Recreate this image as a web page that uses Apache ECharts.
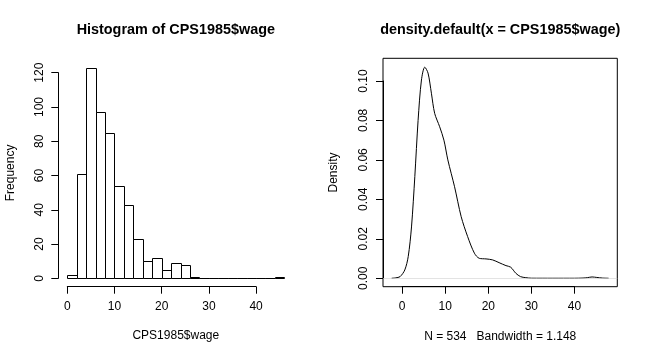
<!DOCTYPE html>
<html>
<head>
<meta charset="utf-8">
<script src="https://cdn.jsdelivr.net/npm/echarts@6/dist/echarts.min.js"></script>
<style>
html,body{margin:0;padding:0;background:#fff;}
#chart{width:648px;height:360px;}
</style>
</head>
<body>
<div id="chart"></div>
<script>
// Histogram data (bin width 2)
var binStarts = [0,2,4,6,8,10,12,14,16,18,20,22,24,26,28,30,32,34,36,38,40,42,44];
var binWidth = 2;
var counts = [2,61,123,97,85,54,43,23,10,12,5,9,8,1,0,0,0,0,0,0,0,0,1];
var histXTicks = [0,10,20,30,40];
var histYTicks = [0,20,40,60,80,100,120];

// Density estimate
var densX = [-2.44,-1.5,-0.5,0.6,1.4,2.16,2.93,3.69,4.47,5.24,6.0,6.78,7.54,8.7,9.69,10.6,12.16,13.7,15.2,16.77,17.9,19.47,21.0,22.5,24.1,25.2,26.4,27.5,28.7,30,35,40,42,43,44.1,45.2,46.5,47.94];
var densY = [0,0.0002,0.0008,0.0042,0.011,0.026,0.0515,0.080,0.1005,0.107,0.104,0.0938,0.0836,0.0768,0.070,0.060,0.0464,0.0312,0.0211,0.0127,0.0101,0.0098,0.0093,0.0079,0.0064,0.0056,0.0025,0.0008,0.0003,0.00002,0,0,0.0001,0.0003,0.00065,0.0004,0.0001,0];
var densYTicks = [0,0.02,0.04,0.06,0.08,0.10];

var FONT = '"Liberation Sans", Arial, Helvetica, sans-serif';

var histData = binStarts.map(function(s,i){ return [s, s+binWidth, counts[i]]; });
var densData = densX.map(function(x,i){ return [x, densY[i]]; });

function tickAxisX(gridIndex, min, max, interval, fmt){
  return {gridIndex:gridIndex, type:'value', min:min, max:max, interval:interval,
    axisLine:{show:true, lineStyle:{color:'#000', width:1}},
    axisTick:{show:true, length:7, lineStyle:{color:'#000'}},
    axisLabel:{show:true, margin:14, color:'#000', fontSize:12, fontFamily:FONT, formatter:fmt},
    splitLine:{show:false}};
}
function tickAxisY(gridIndex, min, max, interval, fmt){
  return {gridIndex:gridIndex, type:'value', min:min, max:max, interval:interval,
    axisLine:{show:true, lineStyle:{color:'#000', width:1}},
    axisTick:{show:true, length:7, lineStyle:{color:'#000'}},
    axisLabel:{show:true, rotate:90, margin:13, color:'#000', fontSize:12, fontFamily:FONT, formatter:fmt},
    splitLine:{show:false}};
}
function hidden(gridIndex, min, max){
  return {gridIndex:gridIndex, type:'value', min:min, max:max, show:false, splitLine:{show:false}};
}

var option = {
  animation:false,
  backgroundColor:'#fff',
  grid:[
    {left:58.6, top:59.1, width:234.4, height:227.6},
    {left:67.3, top:200, width:188.8, height:86.7},
    {left:58.3, top:72.7, width:100, height:205.6},
    {left:383, top:58.3, width:234.3, height:228.4, show:true, borderColor:'#000', borderWidth:1, backgroundColor:'transparent'},
    {left:402.2, top:200, width:172.2, height:86.7},
    {left:383, top:80.98, width:100, height:197.27}
  ],
  xAxis:[
    hidden(0,-1.84,47.84),
    tickAxisX(1,histXTicks[0],histXTicks[histXTicks.length-1],10),
    hidden(2,0,1),
    hidden(3,-4.46,49.96),
    tickAxisX(4,0,40,10),
    hidden(5,0,1)
  ],
  yAxis:[
    hidden(0,-4.92,127.92),
    hidden(1,0,1),
    tickAxisY(2,histYTicks[0],histYTicks[histYTicks.length-1],20),
    hidden(3,-0.00429,0.1115),
    hidden(4,0,1),
    tickAxisY(5,densYTicks[0],densYTicks[densYTicks.length-1],0.02,function(v){return v.toFixed(2);})
  ],
  series:[
    {type:'custom', xAxisIndex:0, yAxisIndex:0, data:histData,
     encode:{x:[0,1], y:2},
     renderItem:function(params, api){
       var p0 = api.coord([api.value(0), 0]);
       var p1 = api.coord([api.value(1), api.value(2)]);
       var x0 = Math.round(p0[0])+0.5, x1 = Math.round(p1[0])+0.5;
       var y0 = Math.round(p0[1])+0.5, y1 = Math.round(p1[1])+0.5;
       return {type:'rect', shape:{x:x0, y:y1, width:x1-x0, height:Math.max(y0-y1,0.01)},
         style:{fill:'#fff', stroke:'#000', lineWidth:1}};
     }},
    {type:'line', xAxisIndex:3, yAxisIndex:3, data:densData, showSymbol:false, symbol:'none',
     smooth:0.3,
     lineStyle:{color:'#000', width:1},
     markLine:{silent:true, symbol:['none','none'], label:{show:false},
       lineStyle:{color:'#d0d0d0', width:0.6, type:'solid'},
       data:[{yAxis:0}]}}
  ],
  graphic:[
    {type:'text', x:175.8, y:30.5, style:{text:'Histogram of CPS1985$wage', font:'bold 14.4px '+FONT, fill:'#000', textAlign:'center', verticalAlign:'middle', textVerticalAlign:'middle'}},
    {type:'text', x:500.2, y:30.5, style:{text:'density.default(x = CPS1985$wage)', font:'bold 14.4px '+FONT, fill:'#000', textAlign:'center', verticalAlign:'middle', textVerticalAlign:'middle'}},
    {type:'text', x:175.8, y:336, style:{text:'CPS1985$wage', font:'12px '+FONT, fill:'#000', textAlign:'center', verticalAlign:'middle', textVerticalAlign:'middle'}},
    {type:'text', x:500.2, y:336.5, style:{text:'N = 534   Bandwidth = 1.148', font:'12px '+FONT, fill:'#000', textAlign:'center', verticalAlign:'middle', textVerticalAlign:'middle'}},
    {type:'text', x:10.5, y:172.9, rotation:Math.PI/2, style:{text:'Frequency', font:'12px '+FONT, fill:'#000', textAlign:'center', verticalAlign:'middle', textVerticalAlign:'middle'}},
    {type:'text', x:334, y:172.5, rotation:Math.PI/2, style:{text:'Density', font:'12px '+FONT, fill:'#000', textAlign:'center', verticalAlign:'middle', textVerticalAlign:'middle'}}
  ]
};
var chart = echarts.init(document.getElementById('chart'), null, {renderer:'canvas'});
chart.setOption(option);
</script>
</body>
</html>
